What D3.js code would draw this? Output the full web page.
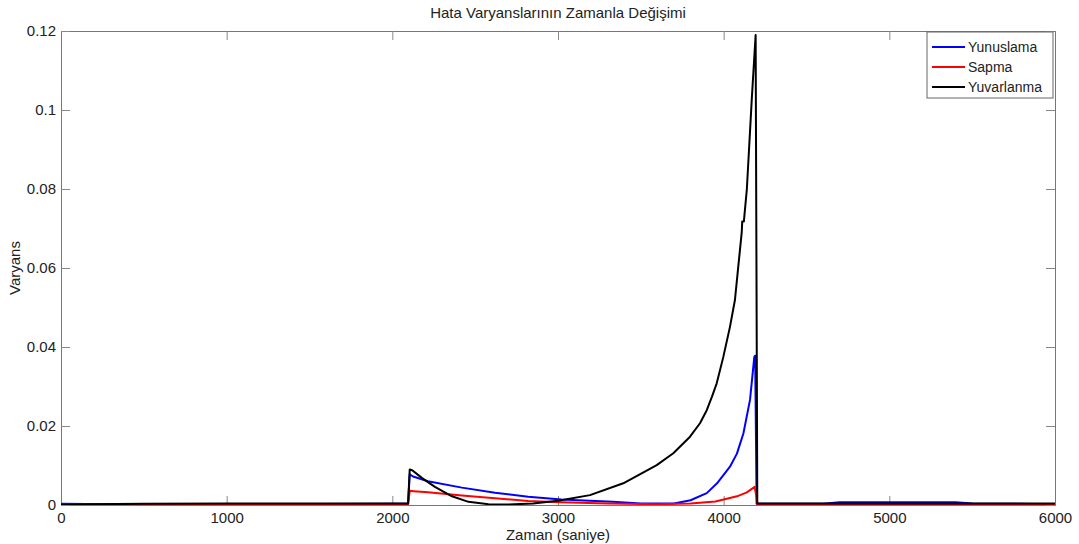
<!DOCTYPE html>
<html>
<head>
<meta charset="utf-8">
<script src="https://cdn.jsdelivr.net/npm/d3@7"></script>
<style>
  body { margin: 0; background: #fff; }
  text { font-family: "Liberation Sans", Arial, sans-serif; fill: #222; }
</style>
</head>
<body>
<svg id="svg" width="1079" height="544"></svg>
<script>
// [time (s), variance] pairs
const yunuslama = [
  [0, 0.0003], [300, 0.0002], [1000, 0.0002], [2000, 0.0003], [2095, 0.0003],
  [2105, 0.0078], [2125, 0.0072], [2215, 0.0060], [2420, 0.0044], [2620, 0.0031],
  [2820, 0.0021], [3020, 0.0014], [3330, 0.0008], [3500, 0.0004], [3700, 0.0004],
  [3800, 0.0012], [3898, 0.0030], [3960, 0.0055], [4038, 0.0097], [4080, 0.0130],
  [4119, 0.0181], [4159, 0.0266], [4185, 0.0375], [4190, 0.0378], [4199, 0.0003],
  [4600, 0.0003], [4700, 0.0007], [5400, 0.0007], [5500, 0.0004], [6000, 0.0002]
]
const sapma = [
  [0, 0.0002], [2095, 0.0002], [2105, 0.0036], [2130, 0.0035], [2215, 0.0032],
  [2420, 0.0024], [2620, 0.0017], [2820, 0.0010], [3020, 0.0007], [3300, 0.0004],
  [3600, 0.0002], [3800, 0.0004], [3950, 0.0009], [4000, 0.0014], [4080, 0.0022],
  [4140, 0.0032], [4187, 0.0046], [4198, 0.0020], [4203, 0.0002], [6000, 0.0002]
]
const yuvarlanma = [
  [0, 0.0001], [500, 0.0003], [1000, 0.0004], [2000, 0.0004], [2095, 0.0004],
  [2105, 0.0090], [2120, 0.0088], [2180, 0.0068], [2257, 0.0046], [2360, 0.0022],
  [2460, 0.0008], [2580, 0.0002], [2700, 0.0001], [2850, 0.0004], [3000, 0.0011],
  [3193, 0.0025], [3394, 0.0055], [3596, 0.0101], [3696, 0.0131], [3797, 0.0173],
  [3857, 0.0207], [3898, 0.0240], [3930, 0.0275], [3958, 0.0308], [3998, 0.0375],
  [4038, 0.0451], [4068, 0.0519], [4088, 0.0603], [4109, 0.0690], [4112, 0.0718],
  [4122, 0.0718], [4140, 0.0800], [4170, 0.1030], [4193, 0.1190], [4203, 0.0004],
  [6000, 0.0004]
]

const seriesNames = ['Yunuslama', 'Sapma', 'Yuvarlanma']
const seriesData = [yunuslama, sapma, yuvarlanma]
const colours = ['#0000ff', '#ff0000', '#000000']
const xTicks = [0, 1000, 2000, 3000, 4000, 5000, 6000]
const yTicks = [0, 0.02, 0.04, 0.06, 0.08, 0.1, 0.12]

const plotLeft = 61, plotRight = 1055, plotTop = 31, plotBottom = 505

const xScale = d3.scaleLinear().domain([0, 6000]).range([plotLeft, plotRight])
const yScale = d3.scaleLinear().domain([0, 0.12]).range([plotBottom, plotTop])

const svg = d3.select('#svg')

svg.append('clipPath').attr('id', 'clip')
  .append('rect')
  .attr('x', plotLeft).attr('y', plotTop - 2)
  .attr('width', plotRight - plotLeft).attr('height', plotBottom - plotTop + 2)

// axes: ticks inward on all four sides
const tickLen = 9
const fmtY = d => d === 0 ? '0' : String(+d.toFixed(2))

svg.append('g')
  .attr('transform', `translate(0,${plotBottom})`)
  .call(d3.axisBottom(xScale).tickValues(xTicks).tickSize(-tickLen).tickPadding(7).tickFormat(d3.format('d')))
svg.append('g')
  .attr('transform', `translate(0,${plotTop})`)
  .call(d3.axisTop(xScale).tickValues(xTicks).tickSize(-tickLen).tickFormat(''))
svg.append('g')
  .attr('transform', `translate(${plotLeft},0)`)
  .call(d3.axisLeft(yScale).tickValues(yTicks).tickSize(-tickLen).tickPadding(5).tickFormat(fmtY))
svg.append('g')
  .attr('transform', `translate(${plotRight},0)`)
  .call(d3.axisRight(yScale).tickValues(yTicks).tickSize(-tickLen).tickFormat(''))

svg.selectAll('.domain').attr('stroke', '#777')
svg.selectAll('.tick line').attr('stroke', '#888')
svg.selectAll('.tick text')
  .attr('font-size', 15)
  .attr('font-family', '"Liberation Sans", Arial, sans-serif')
  .attr('fill', '#222')

const line = d3.line()
  .x(d => xScale(d[0]))
  .y(d => yScale(d[1]))

svg.append('g')
  .attr('clip-path', 'url(#clip)')
  .selectAll('path')
  .data(seriesData)
  .enter()
  .append('path')
  .attr('d', d => line(d))
  .attr('fill', 'none')
  .attr('stroke', (d, i) => colours[i])
  .attr('stroke-width', 2)
  .attr('stroke-linejoin', 'round')

// title and axis labels
svg.append('text')
  .attr('x', (plotLeft + plotRight) / 2).attr('y', 18)
  .attr('text-anchor', 'middle')
  .attr('font-size', 15)
  .text('Hata Varyanslarının Zamanla Değişimi')

svg.append('text')
  .attr('x', (plotLeft + plotRight) / 2).attr('y', 540)
  .attr('text-anchor', 'middle')
  .attr('font-size', 15)
  .text('Zaman (saniye)')

svg.append('text')
  .attr('transform', `translate(20,${(plotTop + plotBottom) / 2}) rotate(-90)`)
  .attr('text-anchor', 'middle')
  .attr('font-size', 15)
  .text('Varyans')

// legend
const legend = svg.append('g').attr('transform', 'translate(927,32)')
legend.append('rect')
  .attr('width', 126).attr('height', 66)
  .attr('fill', '#fff').attr('stroke', '#666')

const rows = legend.selectAll('g.row')
  .data(seriesNames)
  .enter()
  .append('g')
  .attr('transform', (d, i) => `translate(0,${15 + i * 20})`)
rows.append('line')
  .attr('x1', 5).attr('x2', 38)
  .attr('stroke', (d, i) => colours[i])
  .attr('stroke-width', 2)
rows.append('text')
  .attr('x', 41).attr('y', 5)
  .attr('font-size', 14)
  .text(d => d)
</script>
</body>
</html>
